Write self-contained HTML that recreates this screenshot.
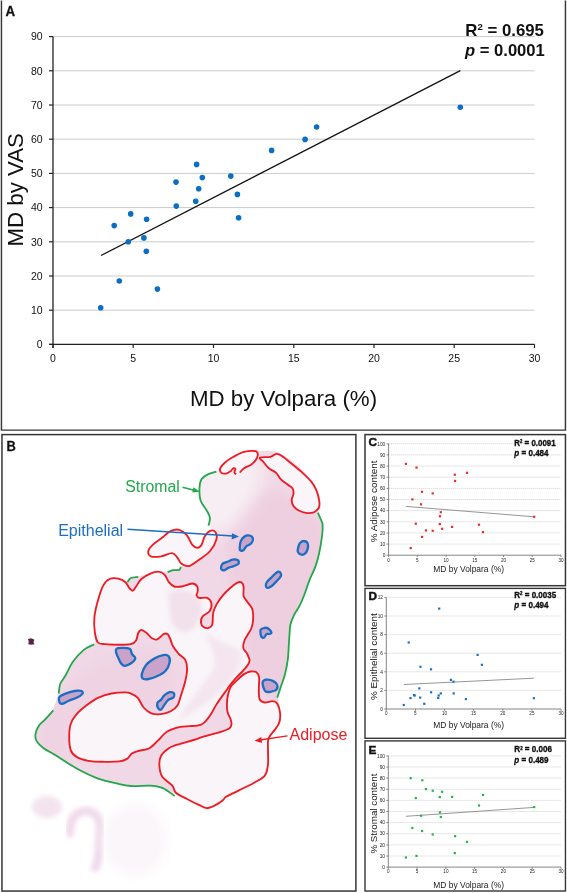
<!DOCTYPE html>
<html><head><meta charset="utf-8"><style>
html,body{margin:0;padding:0;background:#fff;width:567px;height:893px;overflow:hidden}
svg{display:block;will-change:transform}
text{font-family:'Liberation Sans',sans-serif}
</style></head><body>
<svg width="567" height="893" viewBox="0 0 567 893">
<rect width="567" height="893" fill="#fff"/>

<path d="M1.45,0.6 V430.1 H565.45 V0.6" fill="none" stroke="#363636" stroke-width="1.45"/>
<rect x="1.95" y="434.6" width="353.95" height="456.45" fill="none" stroke="#363636" stroke-width="1.5"/>
<rect x="365" y="434.6" width="200.45" height="151.1" fill="none" stroke="#363636" stroke-width="1.5"/>
<rect x="365" y="588.4" width="200.45" height="149.9" fill="none" stroke="#363636" stroke-width="1.4"/>
<rect x="365" y="740.9" width="200.45" height="150.1" fill="none" stroke="#363636" stroke-width="1.4"/>
<text x="5.5" y="15.9" font-size="14.6" font-weight="bold" fill="#111" stroke="#111" stroke-width="0.3" textLength="9.6" lengthAdjust="spacingAndGlyphs">A</text>
<line x1="53.0" y1="310.2" x2="534.5" y2="310.2" stroke="#cbcbcb" stroke-width="1"/>
<line x1="53.0" y1="276.0" x2="534.5" y2="276.0" stroke="#cbcbcb" stroke-width="1"/>
<line x1="53.0" y1="241.8" x2="534.5" y2="241.8" stroke="#cbcbcb" stroke-width="1"/>
<line x1="53.0" y1="207.6" x2="534.5" y2="207.6" stroke="#cbcbcb" stroke-width="1"/>
<line x1="53.0" y1="173.4" x2="534.5" y2="173.4" stroke="#cbcbcb" stroke-width="1"/>
<line x1="53.0" y1="139.2" x2="534.5" y2="139.2" stroke="#cbcbcb" stroke-width="1"/>
<line x1="53.0" y1="105.0" x2="534.5" y2="105.0" stroke="#cbcbcb" stroke-width="1"/>
<line x1="53.0" y1="70.8" x2="534.5" y2="70.8" stroke="#cbcbcb" stroke-width="1"/>
<line x1="53.0" y1="36.6" x2="534.5" y2="36.6" stroke="#cbcbcb" stroke-width="1"/>
<line x1="49" y1="344.4" x2="53.0" y2="344.4" stroke="#222" stroke-width="1.2"/>
<text x="42.6" y="348.2" font-size="10.5" text-anchor="end" fill="#111">0</text>
<line x1="49" y1="310.2" x2="53.0" y2="310.2" stroke="#222" stroke-width="1.2"/>
<text x="42.6" y="314.0" font-size="10.5" text-anchor="end" fill="#111">10</text>
<line x1="49" y1="276.0" x2="53.0" y2="276.0" stroke="#222" stroke-width="1.2"/>
<text x="42.6" y="279.8" font-size="10.5" text-anchor="end" fill="#111">20</text>
<line x1="49" y1="241.8" x2="53.0" y2="241.8" stroke="#222" stroke-width="1.2"/>
<text x="42.6" y="245.6" font-size="10.5" text-anchor="end" fill="#111">30</text>
<line x1="49" y1="207.6" x2="53.0" y2="207.6" stroke="#222" stroke-width="1.2"/>
<text x="42.6" y="211.4" font-size="10.5" text-anchor="end" fill="#111">40</text>
<line x1="49" y1="173.4" x2="53.0" y2="173.4" stroke="#222" stroke-width="1.2"/>
<text x="42.6" y="177.2" font-size="10.5" text-anchor="end" fill="#111">50</text>
<line x1="49" y1="139.2" x2="53.0" y2="139.2" stroke="#222" stroke-width="1.2"/>
<text x="42.6" y="143.0" font-size="10.5" text-anchor="end" fill="#111">60</text>
<line x1="49" y1="105.0" x2="53.0" y2="105.0" stroke="#222" stroke-width="1.2"/>
<text x="42.6" y="108.8" font-size="10.5" text-anchor="end" fill="#111">70</text>
<line x1="49" y1="70.8" x2="53.0" y2="70.8" stroke="#222" stroke-width="1.2"/>
<text x="42.6" y="74.6" font-size="10.5" text-anchor="end" fill="#111">80</text>
<line x1="49" y1="36.6" x2="53.0" y2="36.6" stroke="#222" stroke-width="1.2"/>
<text x="42.6" y="40.4" font-size="10.5" text-anchor="end" fill="#111">90</text>
<line x1="53.0" y1="344.4" x2="53.0" y2="348" stroke="#222" stroke-width="1.2"/>
<text x="53.0" y="361.6" font-size="10.5" text-anchor="middle" fill="#111">0</text>
<line x1="133.2" y1="344.4" x2="133.2" y2="348" stroke="#222" stroke-width="1.2"/>
<text x="133.2" y="361.6" font-size="10.5" text-anchor="middle" fill="#111">5</text>
<line x1="213.5" y1="344.4" x2="213.5" y2="348" stroke="#222" stroke-width="1.2"/>
<text x="213.5" y="361.6" font-size="10.5" text-anchor="middle" fill="#111">10</text>
<line x1="293.8" y1="344.4" x2="293.8" y2="348" stroke="#222" stroke-width="1.2"/>
<text x="293.8" y="361.6" font-size="10.5" text-anchor="middle" fill="#111">15</text>
<line x1="374.0" y1="344.4" x2="374.0" y2="348" stroke="#222" stroke-width="1.2"/>
<text x="374.0" y="361.6" font-size="10.5" text-anchor="middle" fill="#111">20</text>
<line x1="454.2" y1="344.4" x2="454.2" y2="348" stroke="#222" stroke-width="1.2"/>
<text x="454.2" y="361.6" font-size="10.5" text-anchor="middle" fill="#111">25</text>
<line x1="534.5" y1="344.4" x2="534.5" y2="348" stroke="#222" stroke-width="1.2"/>
<text x="534.5" y="361.6" font-size="10.5" text-anchor="middle" fill="#111">30</text>
<line x1="53.0" y1="36.6" x2="53.0" y2="348" stroke="#222" stroke-width="1.3"/>
<line x1="49" y1="344.4" x2="534.5" y2="344.4" stroke="#222" stroke-width="1.3"/>
<text x="190" y="405.7" font-size="22.3" fill="#111">MD by Volpara (%)</text>
<text transform="translate(23.2,246.6) rotate(-90)" font-size="22.3" fill="#111">MD by VAS</text>
<line x1="101" y1="255.5" x2="460.3" y2="70.6" stroke="#111" stroke-width="1.3"/>
<circle cx="100.7" cy="307.8" r="2.8" fill="#0a6fc4"/>
<circle cx="119.3" cy="281" r="2.8" fill="#0a6fc4"/>
<circle cx="157.4" cy="289.1" r="2.8" fill="#0a6fc4"/>
<circle cx="114.2" cy="225.6" r="2.8" fill="#0a6fc4"/>
<circle cx="130.7" cy="213.9" r="2.8" fill="#0a6fc4"/>
<circle cx="146.6" cy="219.3" r="2.8" fill="#0a6fc4"/>
<circle cx="128.3" cy="241.8" r="2.8" fill="#0a6fc4"/>
<circle cx="143.9" cy="237.9" r="2.8" fill="#0a6fc4"/>
<circle cx="146.3" cy="251.3" r="2.8" fill="#0a6fc4"/>
<circle cx="176" cy="182.1" r="2.8" fill="#0a6fc4"/>
<circle cx="176.3" cy="206.1" r="2.8" fill="#0a6fc4"/>
<circle cx="196.6" cy="164.4" r="2.8" fill="#0a6fc4"/>
<circle cx="202.3" cy="177.6" r="2.8" fill="#0a6fc4"/>
<circle cx="198.7" cy="188.7" r="2.8" fill="#0a6fc4"/>
<circle cx="195.7" cy="201.3" r="2.8" fill="#0a6fc4"/>
<circle cx="230.8" cy="176.1" r="2.8" fill="#0a6fc4"/>
<circle cx="237.4" cy="194.4" r="2.8" fill="#0a6fc4"/>
<circle cx="238.6" cy="217.8" r="2.8" fill="#0a6fc4"/>
<circle cx="271.6" cy="150.4" r="2.8" fill="#0a6fc4"/>
<circle cx="305.1" cy="139.4" r="2.8" fill="#0a6fc4"/>
<circle cx="316.6" cy="127" r="2.8" fill="#0a6fc4"/>
<circle cx="460.3" cy="107.2" r="2.8" fill="#0a6fc4"/>
<text x="465.3" y="35.9" font-size="16.6" font-weight="bold" fill="#111" textLength="78.6" lengthAdjust="spacingAndGlyphs">R<tspan font-size="9.5" dy="-6.3">2</tspan><tspan dy="6.3"> = 0.695</tspan></text>
<text x="465" y="56.2" font-size="16.6" font-weight="bold" fill="#111"><tspan font-style="italic">p</tspan> = 0.0001</text>
<text x="368.6" y="446.1" font-size="11.8" font-weight="bold" fill="#111" stroke="#111" stroke-width="0.45">C</text>
<line x1="388.6" y1="544.1" x2="561.0" y2="544.1" stroke="#d0d0d0" stroke-width="0.8" stroke-dasharray="1.3 0.7"/>
<line x1="388.6" y1="532.9" x2="561.0" y2="532.9" stroke="#d0d0d0" stroke-width="0.8" stroke-dasharray="1.3 0.7"/>
<line x1="388.6" y1="521.8" x2="561.0" y2="521.8" stroke="#d0d0d0" stroke-width="0.8" stroke-dasharray="1.3 0.7"/>
<line x1="388.6" y1="510.6" x2="561.0" y2="510.6" stroke="#d0d0d0" stroke-width="0.8" stroke-dasharray="1.3 0.7"/>
<line x1="388.6" y1="499.5" x2="561.0" y2="499.5" stroke="#d0d0d0" stroke-width="0.8" stroke-dasharray="1.3 0.7"/>
<line x1="388.6" y1="488.4" x2="561.0" y2="488.4" stroke="#d0d0d0" stroke-width="0.8" stroke-dasharray="1.3 0.7"/>
<line x1="388.6" y1="477.2" x2="561.0" y2="477.2" stroke="#d0d0d0" stroke-width="0.8" stroke-dasharray="1.3 0.7"/>
<line x1="388.6" y1="466.1" x2="561.0" y2="466.1" stroke="#d0d0d0" stroke-width="0.8" stroke-dasharray="1.3 0.7"/>
<line x1="388.6" y1="454.9" x2="561.0" y2="454.9" stroke="#d0d0d0" stroke-width="0.8" stroke-dasharray="1.3 0.7"/>
<line x1="388.6" y1="443.8" x2="561.0" y2="443.8" stroke="#d0d0d0" stroke-width="0.8" stroke-dasharray="1.3 0.7"/>
<line x1="386.6" y1="555.2" x2="388.6" y2="555.2" stroke="#555" stroke-width="0.7"/>
<text x="385.3" y="556.9" font-size="4.8" text-anchor="end" fill="#222">0</text>
<line x1="386.6" y1="544.1" x2="388.6" y2="544.1" stroke="#555" stroke-width="0.7"/>
<text x="385.3" y="545.8" font-size="4.8" text-anchor="end" fill="#222">10</text>
<line x1="386.6" y1="532.9" x2="388.6" y2="532.9" stroke="#555" stroke-width="0.7"/>
<text x="385.3" y="534.6" font-size="4.8" text-anchor="end" fill="#222">20</text>
<line x1="386.6" y1="521.8" x2="388.6" y2="521.8" stroke="#555" stroke-width="0.7"/>
<text x="385.3" y="523.5" font-size="4.8" text-anchor="end" fill="#222">30</text>
<line x1="386.6" y1="510.6" x2="388.6" y2="510.6" stroke="#555" stroke-width="0.7"/>
<text x="385.3" y="512.3" font-size="4.8" text-anchor="end" fill="#222">40</text>
<line x1="386.6" y1="499.5" x2="388.6" y2="499.5" stroke="#555" stroke-width="0.7"/>
<text x="385.3" y="501.2" font-size="4.8" text-anchor="end" fill="#222">50</text>
<line x1="386.6" y1="488.4" x2="388.6" y2="488.4" stroke="#555" stroke-width="0.7"/>
<text x="385.3" y="490.1" font-size="4.8" text-anchor="end" fill="#222">60</text>
<line x1="386.6" y1="477.2" x2="388.6" y2="477.2" stroke="#555" stroke-width="0.7"/>
<text x="385.3" y="478.9" font-size="4.8" text-anchor="end" fill="#222">70</text>
<line x1="386.6" y1="466.1" x2="388.6" y2="466.1" stroke="#555" stroke-width="0.7"/>
<text x="385.3" y="467.8" font-size="4.8" text-anchor="end" fill="#222">80</text>
<line x1="386.6" y1="454.9" x2="388.6" y2="454.9" stroke="#555" stroke-width="0.7"/>
<text x="385.3" y="456.6" font-size="4.8" text-anchor="end" fill="#222">90</text>
<line x1="386.6" y1="443.8" x2="388.6" y2="443.8" stroke="#555" stroke-width="0.7"/>
<text x="385.3" y="445.5" font-size="4.8" text-anchor="end" fill="#222">100</text>
<line x1="388.6" y1="555.2" x2="388.6" y2="557.0" stroke="#555" stroke-width="0.7"/>
<text x="388.6" y="561.5" font-size="4.6" text-anchor="middle" fill="#222">0</text>
<line x1="417.3" y1="555.2" x2="417.3" y2="557.0" stroke="#555" stroke-width="0.7"/>
<text x="417.3" y="561.5" font-size="4.6" text-anchor="middle" fill="#222">5</text>
<line x1="446.1" y1="555.2" x2="446.1" y2="557.0" stroke="#555" stroke-width="0.7"/>
<text x="446.1" y="561.5" font-size="4.6" text-anchor="middle" fill="#222">10</text>
<line x1="474.8" y1="555.2" x2="474.8" y2="557.0" stroke="#555" stroke-width="0.7"/>
<text x="474.8" y="561.5" font-size="4.6" text-anchor="middle" fill="#222">15</text>
<line x1="503.5" y1="555.2" x2="503.5" y2="557.0" stroke="#555" stroke-width="0.7"/>
<text x="503.5" y="561.5" font-size="4.6" text-anchor="middle" fill="#222">20</text>
<line x1="532.3" y1="555.2" x2="532.3" y2="557.0" stroke="#555" stroke-width="0.7"/>
<text x="532.3" y="561.5" font-size="4.6" text-anchor="middle" fill="#222">25</text>
<line x1="561.0" y1="555.2" x2="561.0" y2="557.0" stroke="#555" stroke-width="0.7"/>
<text x="561.0" y="561.5" font-size="4.6" text-anchor="middle" fill="#222">30</text>
<line x1="388.6" y1="443.8" x2="388.6" y2="555.2" stroke="#777" stroke-width="0.9"/>
<line x1="388.6" y1="555.2" x2="561.0" y2="555.2" stroke="#777" stroke-width="0.9"/>
<line x1="405.9" y1="506.4" x2="534.2" y2="516.8" stroke="#8a8a8a" stroke-width="0.9"/>
<rect x="404.8" y="462.8" width="2.2" height="2.2" fill="#ee2a2a"/>
<rect x="415.4" y="466.5" width="2.2" height="2.2" fill="#ee2a2a"/>
<rect x="453.7" y="473.6" width="2.2" height="2.2" fill="#ee2a2a"/>
<rect x="454.0" y="479.8" width="2.2" height="2.2" fill="#ee2a2a"/>
<rect x="420.9" y="490.7" width="2.2" height="2.2" fill="#ee2a2a"/>
<rect x="431.6" y="492.3" width="2.2" height="2.2" fill="#ee2a2a"/>
<rect x="411.3" y="498.3" width="2.2" height="2.2" fill="#ee2a2a"/>
<rect x="420.0" y="503.2" width="2.2" height="2.2" fill="#ee2a2a"/>
<rect x="439.7" y="511.1" width="2.2" height="2.2" fill="#ee2a2a"/>
<rect x="438.9" y="515.2" width="2.2" height="2.2" fill="#ee2a2a"/>
<rect x="414.7" y="522.6" width="2.2" height="2.2" fill="#ee2a2a"/>
<rect x="438.7" y="523.0" width="2.2" height="2.2" fill="#ee2a2a"/>
<rect x="451.0" y="525.8" width="2.2" height="2.2" fill="#ee2a2a"/>
<rect x="441.0" y="527.7" width="2.2" height="2.2" fill="#ee2a2a"/>
<rect x="424.9" y="529.3" width="2.2" height="2.2" fill="#ee2a2a"/>
<rect x="431.6" y="529.7" width="2.2" height="2.2" fill="#ee2a2a"/>
<rect x="465.9" y="471.7" width="2.2" height="2.2" fill="#ee2a2a"/>
<rect x="533.1" y="515.7" width="2.2" height="2.2" fill="#ee2a2a"/>
<rect x="477.9" y="523.6" width="2.2" height="2.2" fill="#ee2a2a"/>
<rect x="481.9" y="531.0" width="2.2" height="2.2" fill="#ee2a2a"/>
<rect x="409.6" y="547.0" width="2.2" height="2.2" fill="#ee2a2a"/>
<rect x="421.0" y="535.8" width="2.2" height="2.2" fill="#ee2a2a"/>
<text x="433.3" y="572.2" font-size="8.9" fill="#1a1a1a" textLength="70.7" lengthAdjust="spacingAndGlyphs">MD by Volpara (%)</text>
<text transform="translate(376.9,542.3) rotate(-90)" font-size="9.7" fill="#151515" textLength="81.7" lengthAdjust="spacingAndGlyphs">% Adipose content</text>
<text x="514.3" y="445.8" font-size="9.3" font-weight="bold" fill="#111" stroke="#111" stroke-width="0.35" textLength="41.3" lengthAdjust="spacingAndGlyphs">R<tspan font-size="5" dy="-2.9">2</tspan><tspan dy="2.9"> = 0.0091</tspan></text>
<text x="514.3" y="456.2" font-size="9.3" font-weight="bold" fill="#111" stroke="#111" stroke-width="0.35" textLength="34.3" lengthAdjust="spacingAndGlyphs"><tspan font-style="italic">p</tspan> = 0.484</text>
<text x="368.6" y="600.3" font-size="11.8" font-weight="bold" fill="#111" stroke="#111" stroke-width="0.45">D</text>
<line x1="386.3" y1="690.4" x2="561.0" y2="690.4" stroke="#d0d0d0" stroke-width="0.8" stroke-dasharray="1.3 0.7"/>
<line x1="386.3" y1="671.8" x2="561.0" y2="671.8" stroke="#d0d0d0" stroke-width="0.8" stroke-dasharray="1.3 0.7"/>
<line x1="386.3" y1="653.2" x2="561.0" y2="653.2" stroke="#d0d0d0" stroke-width="0.8" stroke-dasharray="1.3 0.7"/>
<line x1="386.3" y1="634.6" x2="561.0" y2="634.6" stroke="#d0d0d0" stroke-width="0.8" stroke-dasharray="1.3 0.7"/>
<line x1="386.3" y1="616.0" x2="561.0" y2="616.0" stroke="#d0d0d0" stroke-width="0.8" stroke-dasharray="1.3 0.7"/>
<line x1="386.3" y1="597.4" x2="561.0" y2="597.4" stroke="#d0d0d0" stroke-width="0.8" stroke-dasharray="1.3 0.7"/>
<line x1="384.3" y1="709.0" x2="386.3" y2="709.0" stroke="#555" stroke-width="0.7"/>
<text x="383.0" y="710.7" font-size="4.8" text-anchor="end" fill="#222">0</text>
<line x1="384.3" y1="690.4" x2="386.3" y2="690.4" stroke="#555" stroke-width="0.7"/>
<text x="383.0" y="692.1" font-size="4.8" text-anchor="end" fill="#222">2</text>
<line x1="384.3" y1="671.8" x2="386.3" y2="671.8" stroke="#555" stroke-width="0.7"/>
<text x="383.0" y="673.5" font-size="4.8" text-anchor="end" fill="#222">4</text>
<line x1="384.3" y1="653.2" x2="386.3" y2="653.2" stroke="#555" stroke-width="0.7"/>
<text x="383.0" y="654.9" font-size="4.8" text-anchor="end" fill="#222">6</text>
<line x1="384.3" y1="634.6" x2="386.3" y2="634.6" stroke="#555" stroke-width="0.7"/>
<text x="383.0" y="636.3" font-size="4.8" text-anchor="end" fill="#222">8</text>
<line x1="384.3" y1="616.0" x2="386.3" y2="616.0" stroke="#555" stroke-width="0.7"/>
<text x="383.0" y="617.7" font-size="4.8" text-anchor="end" fill="#222">10</text>
<line x1="384.3" y1="597.4" x2="386.3" y2="597.4" stroke="#555" stroke-width="0.7"/>
<text x="383.0" y="599.1" font-size="4.8" text-anchor="end" fill="#222">12</text>
<line x1="386.3" y1="709.0" x2="386.3" y2="710.8" stroke="#555" stroke-width="0.7"/>
<text x="386.3" y="715.3" font-size="4.6" text-anchor="middle" fill="#222">0</text>
<line x1="415.4" y1="709.0" x2="415.4" y2="710.8" stroke="#555" stroke-width="0.7"/>
<text x="415.4" y="715.3" font-size="4.6" text-anchor="middle" fill="#222">5</text>
<line x1="444.5" y1="709.0" x2="444.5" y2="710.8" stroke="#555" stroke-width="0.7"/>
<text x="444.5" y="715.3" font-size="4.6" text-anchor="middle" fill="#222">10</text>
<line x1="473.6" y1="709.0" x2="473.6" y2="710.8" stroke="#555" stroke-width="0.7"/>
<text x="473.6" y="715.3" font-size="4.6" text-anchor="middle" fill="#222">15</text>
<line x1="502.8" y1="709.0" x2="502.8" y2="710.8" stroke="#555" stroke-width="0.7"/>
<text x="502.8" y="715.3" font-size="4.6" text-anchor="middle" fill="#222">20</text>
<line x1="531.9" y1="709.0" x2="531.9" y2="710.8" stroke="#555" stroke-width="0.7"/>
<text x="531.9" y="715.3" font-size="4.6" text-anchor="middle" fill="#222">25</text>
<line x1="561.0" y1="709.0" x2="561.0" y2="710.8" stroke="#555" stroke-width="0.7"/>
<text x="561.0" y="715.3" font-size="4.6" text-anchor="middle" fill="#222">30</text>
<line x1="386.3" y1="597.4" x2="386.3" y2="709.0" stroke="#777" stroke-width="0.9"/>
<line x1="386.3" y1="709.0" x2="561.0" y2="709.0" stroke="#777" stroke-width="0.9"/>
<line x1="403.8" y1="684.5" x2="533.9" y2="678.2" stroke="#8a8a8a" stroke-width="0.9"/>
<rect x="438.1" y="607.5" width="2.2" height="2.2" fill="#1a72c4"/>
<rect x="407.6" y="641.4" width="2.2" height="2.2" fill="#1a72c4"/>
<rect x="419.3" y="665.7" width="2.2" height="2.2" fill="#1a72c4"/>
<rect x="429.9" y="668.2" width="2.2" height="2.2" fill="#1a72c4"/>
<rect x="449.8" y="678.8" width="2.2" height="2.2" fill="#1a72c4"/>
<rect x="452.3" y="680.6" width="2.2" height="2.2" fill="#1a72c4"/>
<rect x="476.5" y="653.8" width="2.2" height="2.2" fill="#1a72c4"/>
<rect x="480.8" y="663.7" width="2.2" height="2.2" fill="#1a72c4"/>
<rect x="418.2" y="687.3" width="2.2" height="2.2" fill="#1a72c4"/>
<rect x="430.0" y="691.2" width="2.2" height="2.2" fill="#1a72c4"/>
<rect x="439.7" y="692.3" width="2.2" height="2.2" fill="#1a72c4"/>
<rect x="452.6" y="692.3" width="2.2" height="2.2" fill="#1a72c4"/>
<rect x="412.9" y="694.0" width="2.2" height="2.2" fill="#1a72c4"/>
<rect x="413.6" y="694.4" width="2.2" height="2.2" fill="#1a72c4"/>
<rect x="437.6" y="694.4" width="2.2" height="2.2" fill="#1a72c4"/>
<rect x="409.4" y="697.0" width="2.2" height="2.2" fill="#1a72c4"/>
<rect x="419.1" y="696.5" width="2.2" height="2.2" fill="#1a72c4"/>
<rect x="437.1" y="696.9" width="2.2" height="2.2" fill="#1a72c4"/>
<rect x="423.2" y="702.7" width="2.2" height="2.2" fill="#1a72c4"/>
<rect x="402.7" y="703.9" width="2.2" height="2.2" fill="#1a72c4"/>
<rect x="464.8" y="698.0" width="2.2" height="2.2" fill="#1a72c4"/>
<rect x="532.8" y="697.1" width="2.2" height="2.2" fill="#1a72c4"/>
<text x="433.3" y="728.1" font-size="9.6" fill="#1a1a1a" textLength="70.7" lengthAdjust="spacingAndGlyphs">MD by Volpara (%)</text>
<text transform="translate(376.9,700.1) rotate(-90)" font-size="9.7" fill="#151515" textLength="86.8" lengthAdjust="spacingAndGlyphs">% Epithelial content</text>
<text x="514.3" y="597.9" font-size="9.3" font-weight="bold" fill="#111" stroke="#111" stroke-width="0.35" textLength="41.9" lengthAdjust="spacingAndGlyphs">R<tspan font-size="5" dy="-2.9">2</tspan><tspan dy="2.9"> = 0.0035</tspan></text>
<text x="514.3" y="607.8" font-size="9.3" font-weight="bold" fill="#111" stroke="#111" stroke-width="0.35" textLength="34.3" lengthAdjust="spacingAndGlyphs"><tspan font-style="italic">p</tspan> = 0.494</text>
<text x="368.6" y="754.4" font-size="11.8" font-weight="bold" fill="#111" stroke="#111" stroke-width="0.45">E</text>
<line x1="388.3" y1="856.0" x2="561.0" y2="856.0" stroke="#d0d0d0" stroke-width="0.8" stroke-dasharray="1.3 0.7"/>
<line x1="388.3" y1="844.9" x2="561.0" y2="844.9" stroke="#d0d0d0" stroke-width="0.8" stroke-dasharray="1.3 0.7"/>
<line x1="388.3" y1="833.7" x2="561.0" y2="833.7" stroke="#d0d0d0" stroke-width="0.8" stroke-dasharray="1.3 0.7"/>
<line x1="388.3" y1="822.6" x2="561.0" y2="822.6" stroke="#d0d0d0" stroke-width="0.8" stroke-dasharray="1.3 0.7"/>
<line x1="388.3" y1="811.5" x2="561.0" y2="811.5" stroke="#d0d0d0" stroke-width="0.8" stroke-dasharray="1.3 0.7"/>
<line x1="388.3" y1="800.4" x2="561.0" y2="800.4" stroke="#d0d0d0" stroke-width="0.8" stroke-dasharray="1.3 0.7"/>
<line x1="388.3" y1="789.3" x2="561.0" y2="789.3" stroke="#d0d0d0" stroke-width="0.8" stroke-dasharray="1.3 0.7"/>
<line x1="388.3" y1="778.1" x2="561.0" y2="778.1" stroke="#d0d0d0" stroke-width="0.8" stroke-dasharray="1.3 0.7"/>
<line x1="388.3" y1="767.0" x2="561.0" y2="767.0" stroke="#d0d0d0" stroke-width="0.8" stroke-dasharray="1.3 0.7"/>
<line x1="388.3" y1="755.9" x2="561.0" y2="755.9" stroke="#d0d0d0" stroke-width="0.8" stroke-dasharray="1.3 0.7"/>
<line x1="386.3" y1="867.1" x2="388.3" y2="867.1" stroke="#555" stroke-width="0.7"/>
<text x="385.0" y="868.8" font-size="4.8" text-anchor="end" fill="#222">0</text>
<line x1="386.3" y1="856.0" x2="388.3" y2="856.0" stroke="#555" stroke-width="0.7"/>
<text x="385.0" y="857.7" font-size="4.8" text-anchor="end" fill="#222">10</text>
<line x1="386.3" y1="844.9" x2="388.3" y2="844.9" stroke="#555" stroke-width="0.7"/>
<text x="385.0" y="846.6" font-size="4.8" text-anchor="end" fill="#222">20</text>
<line x1="386.3" y1="833.7" x2="388.3" y2="833.7" stroke="#555" stroke-width="0.7"/>
<text x="385.0" y="835.4" font-size="4.8" text-anchor="end" fill="#222">30</text>
<line x1="386.3" y1="822.6" x2="388.3" y2="822.6" stroke="#555" stroke-width="0.7"/>
<text x="385.0" y="824.3" font-size="4.8" text-anchor="end" fill="#222">40</text>
<line x1="386.3" y1="811.5" x2="388.3" y2="811.5" stroke="#555" stroke-width="0.7"/>
<text x="385.0" y="813.2" font-size="4.8" text-anchor="end" fill="#222">50</text>
<line x1="386.3" y1="800.4" x2="388.3" y2="800.4" stroke="#555" stroke-width="0.7"/>
<text x="385.0" y="802.1" font-size="4.8" text-anchor="end" fill="#222">60</text>
<line x1="386.3" y1="789.3" x2="388.3" y2="789.3" stroke="#555" stroke-width="0.7"/>
<text x="385.0" y="791.0" font-size="4.8" text-anchor="end" fill="#222">70</text>
<line x1="386.3" y1="778.1" x2="388.3" y2="778.1" stroke="#555" stroke-width="0.7"/>
<text x="385.0" y="779.8" font-size="4.8" text-anchor="end" fill="#222">80</text>
<line x1="386.3" y1="767.0" x2="388.3" y2="767.0" stroke="#555" stroke-width="0.7"/>
<text x="385.0" y="768.7" font-size="4.8" text-anchor="end" fill="#222">90</text>
<line x1="386.3" y1="755.9" x2="388.3" y2="755.9" stroke="#555" stroke-width="0.7"/>
<text x="385.0" y="757.6" font-size="4.8" text-anchor="end" fill="#222">100</text>
<line x1="388.3" y1="867.1" x2="388.3" y2="868.9" stroke="#555" stroke-width="0.7"/>
<text x="388.3" y="873.4" font-size="4.6" text-anchor="middle" fill="#222">0</text>
<line x1="417.1" y1="867.1" x2="417.1" y2="868.9" stroke="#555" stroke-width="0.7"/>
<text x="417.1" y="873.4" font-size="4.6" text-anchor="middle" fill="#222">5</text>
<line x1="445.9" y1="867.1" x2="445.9" y2="868.9" stroke="#555" stroke-width="0.7"/>
<text x="445.9" y="873.4" font-size="4.6" text-anchor="middle" fill="#222">10</text>
<line x1="474.6" y1="867.1" x2="474.6" y2="868.9" stroke="#555" stroke-width="0.7"/>
<text x="474.6" y="873.4" font-size="4.6" text-anchor="middle" fill="#222">15</text>
<line x1="503.4" y1="867.1" x2="503.4" y2="868.9" stroke="#555" stroke-width="0.7"/>
<text x="503.4" y="873.4" font-size="4.6" text-anchor="middle" fill="#222">20</text>
<line x1="532.2" y1="867.1" x2="532.2" y2="868.9" stroke="#555" stroke-width="0.7"/>
<text x="532.2" y="873.4" font-size="4.6" text-anchor="middle" fill="#222">25</text>
<line x1="561.0" y1="867.1" x2="561.0" y2="868.9" stroke="#555" stroke-width="0.7"/>
<text x="561.0" y="873.4" font-size="4.6" text-anchor="middle" fill="#222">30</text>
<line x1="388.3" y1="755.9" x2="388.3" y2="867.1" stroke="#777" stroke-width="0.9"/>
<line x1="388.3" y1="867.1" x2="561.0" y2="867.1" stroke="#777" stroke-width="0.9"/>
<line x1="405.9" y1="816.3" x2="534.2" y2="807.4" stroke="#8a8a8a" stroke-width="0.9"/>
<rect x="409.6" y="777.1" width="2.2" height="2.2" fill="#22b34c"/>
<rect x="421.2" y="779.2" width="2.2" height="2.2" fill="#22b34c"/>
<rect x="424.9" y="788.0" width="2.2" height="2.2" fill="#22b34c"/>
<rect x="431.6" y="789.6" width="2.2" height="2.2" fill="#22b34c"/>
<rect x="441.0" y="790.7" width="2.2" height="2.2" fill="#22b34c"/>
<rect x="414.7" y="797.0" width="2.2" height="2.2" fill="#22b34c"/>
<rect x="438.7" y="796.0" width="2.2" height="2.2" fill="#22b34c"/>
<rect x="451.0" y="795.8" width="2.2" height="2.2" fill="#22b34c"/>
<rect x="438.9" y="811.3" width="2.2" height="2.2" fill="#22b34c"/>
<rect x="420.0" y="814.7" width="2.2" height="2.2" fill="#22b34c"/>
<rect x="439.7" y="815.9" width="2.2" height="2.2" fill="#22b34c"/>
<rect x="411.3" y="826.9" width="2.2" height="2.2" fill="#22b34c"/>
<rect x="421.0" y="829.9" width="2.2" height="2.2" fill="#22b34c"/>
<rect x="431.6" y="833.4" width="2.2" height="2.2" fill="#22b34c"/>
<rect x="454.0" y="835.1" width="2.2" height="2.2" fill="#22b34c"/>
<rect x="404.8" y="856.4" width="2.2" height="2.2" fill="#22b34c"/>
<rect x="415.4" y="854.8" width="2.2" height="2.2" fill="#22b34c"/>
<rect x="453.7" y="852.0" width="2.2" height="2.2" fill="#22b34c"/>
<rect x="481.9" y="793.8" width="2.2" height="2.2" fill="#22b34c"/>
<rect x="477.9" y="804.4" width="2.2" height="2.2" fill="#22b34c"/>
<rect x="533.1" y="806.0" width="2.2" height="2.2" fill="#22b34c"/>
<rect x="465.9" y="840.8" width="2.2" height="2.2" fill="#22b34c"/>
<text x="433.3" y="888.3" font-size="9.3" fill="#1a1a1a" textLength="70.7" lengthAdjust="spacingAndGlyphs">MD by Volpara (%)</text>
<text transform="translate(376.9,853.6) rotate(-90)" font-size="9.7" fill="#151515" textLength="80" lengthAdjust="spacingAndGlyphs">% Stromal content</text>
<text x="514.3" y="752.4" font-size="9.3" font-weight="bold" fill="#111" stroke="#111" stroke-width="0.35" textLength="37.7" lengthAdjust="spacingAndGlyphs">R<tspan font-size="5" dy="-2.9">2</tspan><tspan dy="2.9"> = 0.006</tspan></text>
<text x="514.3" y="762.9" font-size="9.3" font-weight="bold" fill="#111" stroke="#111" stroke-width="0.35" textLength="34.3" lengthAdjust="spacingAndGlyphs"><tspan font-style="italic">p</tspan> = 0.489</text>
<text x="6.6" y="450.8" font-size="15.3" font-weight="bold" fill="#111" stroke="#111" stroke-width="0.3" textLength="9.3" lengthAdjust="spacingAndGlyphs">B</text>
<defs><filter id="blur1" x="-10%" y="-10%" width="120%" height="120%"><feGaussianBlur stdDeviation="2.5"/></filter><filter id="blur2" x="-20%" y="-20%" width="140%" height="140%"><feGaussianBlur stdDeviation="5"/></filter><filter id="blur3" x="-50%" y="-50%" width="200%" height="200%"><feGaussianBlur stdDeviation="8"/></filter></defs>
<ellipse cx="47" cy="807" rx="15" ry="11" fill="#f3e3ee" filter="url(#blur1)"/>
<path d="M70,833 C69,820 76,811 86,811 C95,811 101,818 100,830 C99,845 100,860 95,868" fill="none" stroke="#efd9e9" stroke-width="8.5" stroke-linecap="round" filter="url(#blur1)"/>
<ellipse cx="135" cy="840" rx="32" ry="36" fill="#fbf6fa" filter="url(#blur2)"/>
<path d="M216.0,471.6 C218.3,470.2 219.0,468.6 222.0,466.0 C225.0,463.4 229.2,458.7 234.0,456.0 C238.8,453.3 246.3,450.8 251.0,450.0 C255.7,449.2 257.7,450.7 262.0,451.0 C266.3,451.3 272.0,450.3 277.0,452.0 C282.0,453.7 287.2,457.3 292.0,461.0 C296.8,464.7 302.3,469.8 306.0,474.0 C309.7,478.2 311.8,481.7 314.0,486.0 C316.2,490.3 318.1,496.3 319.0,500.0 C319.9,503.7 319.7,505.9 319.5,508.0 C319.3,510.1 317.6,510.8 317.8,512.7 C318.0,514.6 320.0,517.4 320.8,519.4 C321.6,521.4 322.4,522.0 322.6,524.7 C322.8,527.4 322.7,530.8 322.1,535.5 C321.5,540.2 320.3,547.8 319.2,553.0 C318.1,558.2 317.0,562.1 315.4,566.6 C313.8,571.1 311.3,575.6 309.5,580.1 C307.7,584.6 306.3,589.5 304.7,593.7 C303.1,597.9 301.6,601.8 299.8,605.4 C298.0,609.0 295.6,611.9 294.0,615.1 C292.4,618.3 290.8,622.4 290.1,624.8 C289.4,627.2 290.0,626.6 289.8,629.7 C289.6,632.8 289.2,638.4 288.9,643.3 C288.6,648.1 288.5,653.6 287.9,658.8 C287.2,664.0 286.1,669.8 285.0,674.3 C283.9,678.8 282.3,682.1 281.1,686.0 C279.9,689.9 278.1,693.6 278.0,697.6 C277.9,701.6 280.2,705.8 280.5,710.0 C280.8,714.2 281.0,719.7 280.0,723.0 C279.0,726.3 276.6,727.4 274.7,730.0 C272.8,732.6 269.6,732.8 268.5,738.5 C267.4,744.2 268.6,757.8 268.0,764.0 C267.4,770.2 269.6,771.3 264.8,775.6 C260.0,779.9 247.2,785.1 239.0,790.0 C230.8,794.9 220.8,801.9 215.4,805.0 C210.0,808.1 211.5,809.5 206.8,808.5 C202.1,807.5 192.1,801.4 187.0,799.0 C181.9,796.6 178.8,795.2 176.0,794.0 C173.2,792.8 172.3,792.9 170.0,792.0 C167.7,791.1 165.6,789.4 162.3,788.5 C159.0,787.6 155.2,786.8 150.0,786.5 C144.8,786.2 136.7,787.4 130.9,787.0 C125.1,786.6 120.6,785.2 115.4,784.0 C110.2,782.8 105.3,781.9 99.8,780.0 C94.3,778.1 87.6,775.1 82.4,772.5 C77.2,769.9 73.3,767.2 68.8,764.5 C64.3,761.8 59.4,758.6 55.2,756.0 C51.0,753.4 46.7,751.3 43.6,749.0 C40.5,746.7 38.0,744.4 36.5,742.0 C35.0,739.6 34.5,737.3 34.8,734.6 C35.1,731.9 36.5,728.6 38.2,725.9 C39.9,723.2 42.6,721.1 45.0,718.5 C47.4,715.9 50.6,714.6 52.8,710.4 C55.0,706.2 57.0,697.9 58.2,693.5 C59.4,689.1 58.9,687.0 60.0,684.0 C61.1,681.0 62.9,679.2 65.0,675.5 C67.1,671.8 69.5,666.0 72.5,661.7 C75.5,657.5 79.4,653.0 83.0,650.0 C86.6,647.0 92.1,647.0 94.0,644.0 C95.9,641.0 94.3,636.5 94.3,632.0 C94.3,627.5 93.5,622.3 94.0,617.0 C94.5,611.7 96.0,605.3 97.5,600.0 C99.0,594.7 101.0,589.0 103.0,585.4 C105.0,581.8 107.1,579.7 109.6,578.5 C112.1,577.3 115.4,577.5 118.1,578.0 C120.8,578.5 123.4,581.6 125.5,581.5 C127.6,581.4 128.7,578.4 130.8,577.5 C132.9,576.6 135.0,577.1 138.2,576.4 C141.4,575.7 146.5,574.2 149.8,573.3 C153.2,572.4 155.3,571.2 158.3,571.0 C161.3,570.8 165.3,572.0 167.8,571.8 C170.3,571.6 171.2,570.3 173.1,569.8 C175.0,569.3 178.2,569.6 179.5,569.0 C180.8,568.4 179.3,566.8 181.0,566.3 C182.7,565.8 186.8,566.9 189.9,565.8 C193.0,564.7 196.1,562.0 199.5,559.5 C202.9,557.0 207.3,554.4 210.1,551.0 C212.9,547.6 215.5,542.6 216.4,539.4 C217.3,536.2 216.6,534.3 215.3,532.0 C214.0,529.7 209.3,527.9 208.4,525.6 C207.5,523.3 210.2,520.7 210.0,518.2 C209.8,515.7 208.5,513.8 206.9,510.8 C205.3,507.8 201.7,504.1 200.5,500.2 C199.3,496.3 199.3,491.0 199.5,487.5 C199.7,484.0 200.2,481.2 201.6,479.0 C203.0,476.8 205.5,475.6 207.9,474.4 C210.3,473.2 213.7,473.0 216.0,471.6Z" fill="#f1d8e6"/>
<clipPath id="tclip"><path d="M216.0,471.6 C218.3,470.2 219.0,468.6 222.0,466.0 C225.0,463.4 229.2,458.7 234.0,456.0 C238.8,453.3 246.3,450.8 251.0,450.0 C255.7,449.2 257.7,450.7 262.0,451.0 C266.3,451.3 272.0,450.3 277.0,452.0 C282.0,453.7 287.2,457.3 292.0,461.0 C296.8,464.7 302.3,469.8 306.0,474.0 C309.7,478.2 311.8,481.7 314.0,486.0 C316.2,490.3 318.1,496.3 319.0,500.0 C319.9,503.7 319.7,505.9 319.5,508.0 C319.3,510.1 317.6,510.8 317.8,512.7 C318.0,514.6 320.0,517.4 320.8,519.4 C321.6,521.4 322.4,522.0 322.6,524.7 C322.8,527.4 322.7,530.8 322.1,535.5 C321.5,540.2 320.3,547.8 319.2,553.0 C318.1,558.2 317.0,562.1 315.4,566.6 C313.8,571.1 311.3,575.6 309.5,580.1 C307.7,584.6 306.3,589.5 304.7,593.7 C303.1,597.9 301.6,601.8 299.8,605.4 C298.0,609.0 295.6,611.9 294.0,615.1 C292.4,618.3 290.8,622.4 290.1,624.8 C289.4,627.2 290.0,626.6 289.8,629.7 C289.6,632.8 289.2,638.4 288.9,643.3 C288.6,648.1 288.5,653.6 287.9,658.8 C287.2,664.0 286.1,669.8 285.0,674.3 C283.9,678.8 282.3,682.1 281.1,686.0 C279.9,689.9 278.1,693.6 278.0,697.6 C277.9,701.6 280.2,705.8 280.5,710.0 C280.8,714.2 281.0,719.7 280.0,723.0 C279.0,726.3 276.6,727.4 274.7,730.0 C272.8,732.6 269.6,732.8 268.5,738.5 C267.4,744.2 268.6,757.8 268.0,764.0 C267.4,770.2 269.6,771.3 264.8,775.6 C260.0,779.9 247.2,785.1 239.0,790.0 C230.8,794.9 220.8,801.9 215.4,805.0 C210.0,808.1 211.5,809.5 206.8,808.5 C202.1,807.5 192.1,801.4 187.0,799.0 C181.9,796.6 178.8,795.2 176.0,794.0 C173.2,792.8 172.3,792.9 170.0,792.0 C167.7,791.1 165.6,789.4 162.3,788.5 C159.0,787.6 155.2,786.8 150.0,786.5 C144.8,786.2 136.7,787.4 130.9,787.0 C125.1,786.6 120.6,785.2 115.4,784.0 C110.2,782.8 105.3,781.9 99.8,780.0 C94.3,778.1 87.6,775.1 82.4,772.5 C77.2,769.9 73.3,767.2 68.8,764.5 C64.3,761.8 59.4,758.6 55.2,756.0 C51.0,753.4 46.7,751.3 43.6,749.0 C40.5,746.7 38.0,744.4 36.5,742.0 C35.0,739.6 34.5,737.3 34.8,734.6 C35.1,731.9 36.5,728.6 38.2,725.9 C39.9,723.2 42.6,721.1 45.0,718.5 C47.4,715.9 50.6,714.6 52.8,710.4 C55.0,706.2 57.0,697.9 58.2,693.5 C59.4,689.1 58.9,687.0 60.0,684.0 C61.1,681.0 62.9,679.2 65.0,675.5 C67.1,671.8 69.5,666.0 72.5,661.7 C75.5,657.5 79.4,653.0 83.0,650.0 C86.6,647.0 92.1,647.0 94.0,644.0 C95.9,641.0 94.3,636.5 94.3,632.0 C94.3,627.5 93.5,622.3 94.0,617.0 C94.5,611.7 96.0,605.3 97.5,600.0 C99.0,594.7 101.0,589.0 103.0,585.4 C105.0,581.8 107.1,579.7 109.6,578.5 C112.1,577.3 115.4,577.5 118.1,578.0 C120.8,578.5 123.4,581.6 125.5,581.5 C127.6,581.4 128.7,578.4 130.8,577.5 C132.9,576.6 135.0,577.1 138.2,576.4 C141.4,575.7 146.5,574.2 149.8,573.3 C153.2,572.4 155.3,571.2 158.3,571.0 C161.3,570.8 165.3,572.0 167.8,571.8 C170.3,571.6 171.2,570.3 173.1,569.8 C175.0,569.3 178.2,569.6 179.5,569.0 C180.8,568.4 179.3,566.8 181.0,566.3 C182.7,565.8 186.8,566.9 189.9,565.8 C193.0,564.7 196.1,562.0 199.5,559.5 C202.9,557.0 207.3,554.4 210.1,551.0 C212.9,547.6 215.5,542.6 216.4,539.4 C217.3,536.2 216.6,534.3 215.3,532.0 C214.0,529.7 209.3,527.9 208.4,525.6 C207.5,523.3 210.2,520.7 210.0,518.2 C209.8,515.7 208.5,513.8 206.9,510.8 C205.3,507.8 201.7,504.1 200.5,500.2 C199.3,496.3 199.3,491.0 199.5,487.5 C199.7,484.0 200.2,481.2 201.6,479.0 C203.0,476.8 205.5,475.6 207.9,474.4 C210.3,473.2 213.7,473.0 216.0,471.6Z"/></clipPath>
<g clip-path="url(#tclip)">
<path d="M235,505 C260,480 310,490 330,540 C325,600 310,650 300,700 C270,710 250,690 245,650 C235,600 215,560 235,505Z" fill="#eecfe0" filter="url(#blur2)"/>
<path d="M40,720 C60,680 110,650 150,650 C185,660 180,700 160,712 C120,700 90,700 70,730 C60,760 90,770 40,760Z" fill="#efd3e3" filter="url(#blur2)"/>
<path d="M190,470 C212,458 245,452 262,460 C268,482 250,510 232,528 C218,540 198,535 190,515Z" fill="#f7eef3" filter="url(#blur3)"/>
</g>
<path d="M98.0,642.5 C96.2,640.5 95.4,636.2 94.8,632.0 C94.2,627.8 93.9,622.4 94.4,617.1 C94.9,611.8 96.5,605.5 98.0,600.2 C99.5,594.9 101.4,588.9 103.3,585.4 C105.2,581.9 107.1,580.1 109.6,579.0 C112.1,577.9 115.4,578.1 118.1,578.6 C120.8,579.1 123.6,580.5 125.5,582.2 C127.4,583.9 128.5,587.2 129.7,588.6 C130.9,590.0 131.8,591.1 132.9,590.7 C134.0,590.4 134.7,588.5 136.1,586.5 C137.5,584.5 139.1,581.1 141.4,579.0 C143.7,576.9 147.0,575.0 149.8,573.8 C152.6,572.6 155.8,571.4 158.3,571.6 C160.8,571.8 162.9,573.0 164.7,574.8 C166.5,576.6 167.3,580.2 168.9,582.2 C170.5,584.2 172.1,585.8 174.2,586.5 C176.3,587.2 178.6,587.0 181.6,586.5 C184.6,586.0 189.6,583.5 192.2,583.5 C194.8,583.5 196.4,585.1 197.3,586.5 C198.2,587.9 197.7,590.2 197.6,591.7 C197.5,593.2 196.2,594.3 196.5,595.3 C196.8,596.3 197.3,597.5 199.1,597.9 C200.8,598.3 204.9,597.0 207.0,597.9 C209.1,598.8 211.0,601.0 211.4,603.2 C211.8,605.4 211.2,608.9 209.7,611.1 C208.2,613.3 204.1,614.5 202.6,616.4 C201.1,618.3 200.8,620.8 200.9,622.6 C201.1,624.4 202.2,626.1 203.5,627.0 C204.8,627.9 207.3,628.3 208.8,627.9 C210.3,627.5 211.6,626.9 212.3,624.4 C213.0,621.9 212.5,616.3 213.2,612.9 C213.9,609.5 215.1,607.0 216.7,604.1 C218.3,601.2 220.7,597.9 222.9,595.3 C225.1,592.6 227.7,590.3 230.0,588.2 C232.3,586.1 235.1,583.9 237.0,582.9 C238.9,581.9 240.3,581.8 241.4,582.4 C242.5,583.0 243.2,584.2 243.6,586.5 C244.0,588.8 242.9,593.4 243.6,596.0 C244.3,598.6 246.1,600.1 247.6,602.3 C249.1,604.5 251.5,606.4 252.4,609.4 C253.3,612.4 253.3,616.8 253.1,620.0 C252.9,623.2 252.3,625.9 251.3,628.5 C250.3,631.1 248.4,633.4 247.2,635.5 C246.0,637.6 244.8,639.2 244.2,641.3 C243.5,643.4 242.8,646.0 243.3,648.1 C243.8,650.2 246.1,651.8 247.2,653.9 C248.2,656.0 249.6,658.6 249.6,660.5 C249.6,662.4 248.5,663.8 247.4,665.5 C246.3,667.2 244.9,668.7 243.2,670.6 C241.5,672.5 238.9,674.8 237.0,676.8 C235.1,678.8 233.5,680.7 231.8,682.9 C230.1,685.1 228.4,687.5 226.6,690.0 C224.8,692.5 222.7,695.2 220.9,697.9 C219.1,700.5 217.2,703.2 215.6,705.9 C214.0,708.5 212.8,711.3 211.2,713.8 C209.6,716.3 207.7,719.1 205.9,720.9 C204.1,722.7 203.2,723.9 200.6,724.8 C197.9,725.7 193.4,725.9 190.0,726.2 C186.6,726.6 184.2,726.0 180.4,726.9 C176.6,727.8 170.6,729.5 166.9,731.7 C163.2,734.0 161.0,737.6 158.1,740.4 C155.2,743.1 152.8,746.4 149.4,748.2 C146.0,750.0 140.7,750.2 137.8,751.1 C134.9,752.0 133.6,752.2 131.8,753.5 C130.0,754.8 129.1,757.6 127.0,758.9 C124.9,760.2 123.1,760.9 119.2,761.4 C115.3,761.9 108.9,761.9 103.7,761.8 C98.5,761.7 92.7,761.6 88.2,760.8 C83.7,760.0 79.5,758.7 76.6,756.9 C73.7,755.1 71.9,753.5 70.7,750.1 C69.5,746.7 69.2,741.0 69.2,736.6 C69.2,732.2 69.5,727.7 70.7,724.0 C71.9,720.3 74.0,717.3 76.6,714.2 C79.2,711.1 82.8,708.2 86.3,705.5 C89.8,702.8 93.7,699.8 97.9,697.8 C102.1,695.8 107.0,694.4 111.5,693.5 C116.0,692.6 121.8,692.3 125.1,692.3 C128.3,692.3 128.9,692.6 131.0,693.5 C133.1,694.4 135.7,695.5 137.8,697.8 C139.9,700.1 141.3,704.9 143.6,707.5 C145.8,710.1 148.4,712.2 151.3,713.3 C154.2,714.4 157.8,714.5 161.0,714.2 C164.2,713.9 167.9,712.8 170.7,711.3 C173.4,709.8 175.8,708.1 177.5,705.5 C179.2,702.9 179.6,699.7 180.8,695.8 C182.1,691.9 183.9,686.7 185.0,682.3 C186.1,677.9 187.0,673.3 187.1,669.6 C187.2,665.9 186.8,662.7 185.4,660.1 C184.0,657.5 180.8,656.1 178.7,653.8 C176.6,651.5 174.3,648.6 173.0,646.3 C171.7,644.0 171.5,642.0 170.6,640.0 C169.7,638.0 169.0,635.3 167.8,634.3 C166.6,633.3 165.4,633.2 163.6,634.1 C161.8,635.0 159.1,638.7 157.2,639.4 C155.3,640.1 153.8,639.4 152.0,638.3 C150.2,637.2 148.5,634.4 146.7,633.0 C144.9,631.6 142.8,629.8 141.4,629.8 C140.0,629.8 139.1,631.2 138.2,633.0 C137.3,634.8 137.3,638.5 136.1,640.4 C134.9,642.3 133.8,643.5 130.8,644.2 C127.8,644.9 122.3,644.7 118.1,644.7 C113.9,644.7 108.8,644.6 105.4,644.2 C102.1,643.8 99.8,644.5 98.0,642.5Z" fill="#f9f5f8"/>
<path d="M230.9,686.5 C232.6,683.9 235.7,681.5 237.9,679.4 C240.1,677.3 242.0,675.4 244.1,674.1 C246.2,672.8 248.2,671.8 250.3,671.5 C252.4,671.2 254.9,671.3 256.4,672.3 C257.9,673.3 258.7,674.6 259.1,677.6 C259.5,680.6 258.7,686.4 258.8,690.0 C258.9,693.6 258.8,697.4 259.8,699.5 C260.8,701.6 262.5,702.2 264.6,702.5 C266.7,702.8 270.3,701.0 272.4,701.1 C274.5,701.2 275.9,701.4 277.2,703.4 C278.5,705.4 279.8,709.9 280.1,713.1 C280.4,716.3 280.1,720.0 279.2,722.8 C278.3,725.6 276.5,727.3 274.7,729.9 C272.9,732.5 269.6,735.2 268.5,738.5 C267.4,741.8 268.1,745.3 268.0,749.6 C267.9,753.9 268.5,760.1 268.0,764.4 C267.5,768.7 267.2,772.5 264.8,775.6 C262.4,778.7 258.0,780.5 253.7,783.0 C249.4,785.5 243.4,788.1 238.9,790.4 C234.4,792.6 229.2,794.9 226.5,796.5 C223.8,798.1 224.7,798.8 222.8,800.2 C221.0,801.7 218.1,803.9 215.4,805.2 C212.7,806.5 209.5,808.1 206.8,808.1 C204.1,808.1 202.7,806.7 199.4,805.2 C196.1,803.7 190.9,801.1 187.0,799.0 C183.1,796.9 178.4,795.1 175.9,792.8 C173.4,790.5 174.5,788.1 172.2,785.4 C169.9,782.7 164.4,780.1 162.3,776.8 C160.2,773.5 159.6,769.2 159.4,765.7 C159.2,762.2 159.5,758.7 161.1,755.8 C162.7,752.9 166.1,750.1 168.8,748.2 C171.5,746.4 173.1,746.1 177.2,744.7 C181.3,743.3 189.2,741.3 193.5,740.0 C197.8,738.7 199.4,737.8 203.2,736.7 C207.0,735.6 212.2,734.5 216.5,733.2 C220.8,731.9 226.3,730.3 228.8,728.8 C231.3,727.3 231.1,726.0 231.4,724.4 C231.7,722.8 231.2,721.2 230.6,719.1 C229.9,717.0 228.1,714.6 227.5,712.0 C226.9,709.4 226.9,706.0 227.0,703.2 C227.1,700.4 227.2,698.1 227.9,695.3 C228.6,692.5 229.2,689.1 230.9,686.5Z" fill="#f9f5f8"/>
<path d="M239.7,472.6 C241.0,471.6 242.2,469.5 244.1,468.2 C246.0,466.9 249.2,466.0 251.1,464.7 C253.0,463.4 254.5,461.9 255.6,460.3 C256.7,458.7 257.7,456.5 257.8,455.0 C257.9,453.5 257.5,452.2 256.4,451.5 C255.3,450.8 253.4,450.8 251.1,450.9 C248.8,451.0 245.2,451.3 242.3,452.3 C239.4,453.3 236.3,455.2 233.5,456.8 C230.7,458.4 227.8,460.1 225.6,462.0 C223.4,463.9 221.0,466.4 220.3,468.2 C219.6,470.0 220.2,471.7 221.2,472.6 C222.2,473.5 224.9,473.8 226.5,473.5 C228.1,473.2 229.7,471.8 230.9,470.9 C232.1,470.0 232.8,468.5 233.5,468.2 C234.2,467.9 235.2,468.4 235.3,469.1 C235.5,469.8 234.2,471.7 234.4,472.6 C234.6,473.5 235.3,474.4 236.2,474.4 C237.1,474.4 238.4,473.6 239.7,472.6Z" fill="#f9f5f8"/>
<path d="M260.0,457.6 C261.2,456.7 267.8,457.4 270.6,456.8 C273.4,456.2 274.8,453.8 276.8,453.8 C278.9,453.8 280.4,455.1 282.9,456.8 C285.4,458.5 288.5,461.2 291.7,463.8 C294.9,466.4 299.1,469.7 302.3,472.6 C305.5,475.5 308.8,478.4 311.1,481.4 C313.5,484.3 315.1,487.2 316.4,490.3 C317.7,493.4 318.7,497.2 319.1,500.0 C319.6,502.8 319.6,505.2 319.1,507.0 C318.7,508.8 317.4,509.6 316.4,510.5 C315.4,511.4 314.6,512.3 312.9,512.7 C311.1,513.1 308.2,513.3 305.9,512.9 C303.5,512.5 300.9,511.6 298.8,510.5 C296.7,509.4 294.7,507.9 293.5,506.1 C292.3,504.4 291.7,502.1 291.7,500.0 C291.7,497.9 293.4,495.7 293.5,493.8 C293.6,491.9 293.5,490.0 292.6,488.5 C291.7,487.0 290.1,486.5 288.2,485.0 C286.3,483.5 283.2,481.8 281.2,479.7 C279.1,477.6 278.0,474.5 275.9,472.6 C273.8,470.7 270.9,470.0 268.8,468.2 C266.7,466.4 265.0,463.8 263.5,462.0 C262.0,460.2 258.8,458.5 260.0,457.6Z" fill="#f9f5f8"/>
<path d="M189.9,565.8 C192.4,564.8 196.1,562.0 199.5,559.5 C202.9,557.0 207.3,554.4 210.1,551.0 C212.9,547.6 215.5,542.6 216.4,539.4 C217.3,536.2 216.4,533.4 215.3,532.0 C214.2,530.6 211.8,530.2 210.1,530.9 C208.3,531.6 206.2,533.9 204.8,536.2 C203.4,538.5 202.8,542.8 201.6,544.7 C200.4,546.6 199.0,547.8 197.4,547.8 C195.8,547.8 193.9,546.8 192.1,544.7 C190.3,542.6 188.9,537.6 186.8,535.1 C184.7,532.6 182.1,530.5 179.4,529.8 C176.8,529.1 173.9,529.5 170.9,530.9 C167.9,532.3 164.4,536.0 161.4,538.3 C158.4,540.6 155.1,542.6 152.9,544.7 C150.7,546.8 148.7,549.1 148.3,551.0 C148.0,552.9 148.6,555.4 150.8,556.3 C153.0,557.2 157.9,556.8 161.4,556.3 C164.9,555.8 169.4,552.9 172.0,553.1 C174.6,553.3 175.8,555.8 177.2,557.4 C178.6,559.0 179.2,561.3 180.4,562.6 C181.7,563.9 183.1,564.9 184.7,565.4 C186.3,565.9 187.4,566.8 189.9,565.8Z" fill="#f9f5f8"/>
<path d="M167.5,592.7 C180,588 193,588 201.4,603.3 C203,612 199.3,622.3 190.8,630.8 C184,633 178.1,632.9 171.7,622.3 C169,612 170,600 167.5,592.7Z" fill="#f2e0ea" filter="url(#blur1)"/>
<path d="M205,632 C215,640 228,645 240,650 C244,662 236,676 222,690 C205,705 190,712 178,722 C185,705 200,690 212,672 C220,660 210,645 205,632Z" fill="#f4e5ee" filter="url(#blur1)"/>
<path d="M116.3,649.0 C117.3,648.1 120.0,647.8 122.3,647.8 C124.6,647.8 128.4,647.9 130.0,649.0 C131.6,650.1 131.1,652.7 132.0,654.2 C132.9,655.7 135.1,656.5 135.3,657.8 C135.5,659.0 134.8,660.4 133.2,661.7 C131.6,663.0 127.5,665.5 125.5,665.8 C123.5,666.1 122.5,665.1 121.3,663.7 C120.1,662.3 118.9,659.2 118.1,657.4 C117.3,655.6 116.6,654.5 116.3,653.1 C116.0,651.7 115.3,649.9 116.3,649.0Z" fill="#caa3ca"/>
<path d="M142.1,673.1 C142.7,670.8 144.2,667.2 146.3,664.7 C148.4,662.2 152.0,659.9 154.8,658.3 C157.6,656.7 161.0,655.5 163.3,655.1 C165.6,654.8 167.6,655.0 168.6,656.2 C169.6,657.4 170.1,660.0 169.6,662.5 C169.1,665.0 167.5,668.7 165.4,671.0 C163.3,673.3 159.7,675.0 156.9,676.3 C154.1,677.6 150.9,678.6 148.5,679.0 C146.1,679.4 143.6,679.4 142.5,678.4 C141.4,677.4 141.5,675.4 142.1,673.1Z" fill="#caa3ca"/>
<path d="M59.1,700.7 C59.0,699.6 58.5,697.9 59.5,696.8 C60.5,695.7 62.4,694.9 64.9,693.9 C67.4,692.9 71.8,691.5 74.6,691.0 C77.3,690.5 80.1,690.5 81.4,691.0 C82.7,691.5 83.2,692.8 82.4,693.9 C81.6,695.0 78.9,696.7 76.6,697.8 C74.3,698.9 71.1,699.7 68.8,700.7 C66.5,701.7 64.5,703.2 63.0,703.6 C61.5,704.0 60.8,703.7 60.1,703.2 C59.5,702.7 59.2,701.8 59.1,700.7Z" fill="#caa3ca"/>
<path d="M158.0,708.0 C157.4,706.9 156.9,704.2 157.4,702.8 C157.9,701.4 160.0,700.9 161.2,699.6 C162.3,698.4 162.9,696.5 164.3,695.3 C165.7,694.1 168.0,692.6 169.6,692.2 C171.2,691.9 173.3,692.3 173.9,693.2 C174.5,694.1 174.3,696.4 173.4,697.5 C172.5,698.6 170.1,698.4 168.6,699.6 C167.1,700.8 165.5,703.2 164.3,704.9 C163.1,706.5 162.2,709.0 161.2,709.5 C160.1,710.0 158.6,709.1 158.0,708.0Z" fill="#caa3ca"/>
<path d="M221.1,567.0 C221.3,566.0 221.7,564.4 222.9,563.5 C224.1,562.6 226.6,562.1 228.2,561.5 C229.8,560.9 231.0,559.8 232.6,559.6 C234.2,559.4 236.9,559.6 237.9,560.3 C238.9,561.0 239.1,562.8 238.4,563.8 C237.7,564.8 235.2,565.5 233.5,566.2 C231.8,566.9 229.7,567.2 228.2,567.9 C226.7,568.6 225.8,569.9 224.7,570.2 C223.6,570.5 222.3,570.2 221.7,569.7 C221.1,569.2 220.9,568.0 221.1,567.0Z" fill="#caa3ca"/>
<path d="M239.7,549.1 C239.7,547.5 239.9,543.4 240.7,541.3 C241.5,539.2 243.1,537.5 244.5,536.5 C245.9,535.5 248.0,535.2 249.4,535.5 C250.8,535.8 252.6,537.1 252.9,538.4 C253.2,539.7 252.4,542.0 251.3,543.3 C250.2,544.6 247.8,545.1 246.5,546.2 C245.2,547.3 244.5,549.4 243.6,550.1 C242.7,550.8 241.6,550.8 240.9,550.6 C240.2,550.4 239.7,550.7 239.7,549.1Z" fill="#caa3ca"/>
<path d="M297.9,549.1 C298.2,547.6 298.8,544.6 299.8,543.3 C300.8,541.9 302.4,541.0 303.7,541.0 C305.0,541.0 307.0,541.9 307.6,543.3 C308.2,544.6 308.1,547.3 307.6,549.1 C307.1,550.9 305.8,553.0 304.7,553.9 C303.6,554.8 301.9,554.8 300.8,554.5 C299.7,554.2 298.4,552.9 297.9,552.0 C297.4,551.1 297.6,550.6 297.9,549.1Z" fill="#caa3ca"/>
<path d="M265.9,586.0 C265.8,585.0 265.9,583.6 266.9,582.1 C267.9,580.6 270.1,578.8 271.7,577.2 C273.3,575.6 275.2,573.2 276.6,572.4 C278.0,571.6 279.3,571.6 280.0,572.2 C280.7,572.9 281.4,574.8 280.8,576.3 C280.2,577.8 278.1,579.5 276.6,581.1 C275.1,582.7 273.2,584.9 271.7,586.0 C270.2,587.1 268.8,587.9 267.8,587.9 C266.8,587.9 266.0,587.0 265.9,586.0Z" fill="#caa3ca"/>
<path d="M260.7,634.5 C260.5,633.3 260.0,630.8 260.7,629.7 C261.4,628.6 263.3,628.0 264.6,627.8 C265.9,627.6 267.4,627.9 268.5,628.7 C269.6,629.5 271.2,631.7 271.4,632.6 C271.6,633.5 270.3,633.8 269.5,634.0 C268.7,634.2 267.5,633.4 266.6,634.0 C265.7,634.6 265.0,637.0 264.2,637.5 C263.4,638.0 262.3,637.6 261.7,637.1 C261.1,636.6 260.9,635.7 260.7,634.5Z" fill="#caa3ca"/>
<path d="M263.6,687.9 C263.1,686.4 262.2,683.5 262.7,682.1 C263.2,680.7 264.8,679.9 266.6,679.7 C268.4,679.5 271.5,680.2 273.3,681.1 C275.1,682.0 276.7,683.5 277.2,685.0 C277.7,686.5 277.4,688.7 276.3,689.8 C275.2,690.9 272.2,691.5 270.4,691.8 C268.6,692.1 266.7,692.0 265.6,691.4 C264.5,690.8 264.1,689.4 263.6,687.9Z" fill="#caa3ca"/>
<path d="M98.0,642.5 C96.2,640.5 95.4,636.2 94.8,632.0 C94.2,627.8 93.9,622.4 94.4,617.1 C94.9,611.8 96.5,605.5 98.0,600.2 C99.5,594.9 101.4,588.9 103.3,585.4 C105.2,581.9 107.1,580.1 109.6,579.0 C112.1,577.9 115.4,578.1 118.1,578.6 C120.8,579.1 123.6,580.5 125.5,582.2 C127.4,583.9 128.5,587.2 129.7,588.6 C130.9,590.0 131.8,591.1 132.9,590.7 C134.0,590.4 134.7,588.5 136.1,586.5 C137.5,584.5 139.1,581.1 141.4,579.0 C143.7,576.9 147.0,575.0 149.8,573.8 C152.6,572.6 155.8,571.4 158.3,571.6 C160.8,571.8 162.9,573.0 164.7,574.8 C166.5,576.6 167.3,580.2 168.9,582.2 C170.5,584.2 172.1,585.8 174.2,586.5 C176.3,587.2 178.6,587.0 181.6,586.5 C184.6,586.0 189.6,583.5 192.2,583.5 C194.8,583.5 196.4,585.1 197.3,586.5 C198.2,587.9 197.7,590.2 197.6,591.7 C197.5,593.2 196.2,594.3 196.5,595.3 C196.8,596.3 197.3,597.5 199.1,597.9 C200.8,598.3 204.9,597.0 207.0,597.9 C209.1,598.8 211.0,601.0 211.4,603.2 C211.8,605.4 211.2,608.9 209.7,611.1 C208.2,613.3 204.1,614.5 202.6,616.4 C201.1,618.3 200.8,620.8 200.9,622.6 C201.1,624.4 202.2,626.1 203.5,627.0 C204.8,627.9 207.3,628.3 208.8,627.9 C210.3,627.5 211.6,626.9 212.3,624.4 C213.0,621.9 212.5,616.3 213.2,612.9 C213.9,609.5 215.1,607.0 216.7,604.1 C218.3,601.2 220.7,597.9 222.9,595.3 C225.1,592.6 227.7,590.3 230.0,588.2 C232.3,586.1 235.1,583.9 237.0,582.9 C238.9,581.9 240.3,581.8 241.4,582.4 C242.5,583.0 243.2,584.2 243.6,586.5 C244.0,588.8 242.9,593.4 243.6,596.0 C244.3,598.6 246.1,600.1 247.6,602.3 C249.1,604.5 251.5,606.4 252.4,609.4 C253.3,612.4 253.3,616.8 253.1,620.0 C252.9,623.2 252.3,625.9 251.3,628.5 C250.3,631.1 248.4,633.4 247.2,635.5 C246.0,637.6 244.8,639.2 244.2,641.3 C243.5,643.4 242.8,646.0 243.3,648.1 C243.8,650.2 246.1,651.8 247.2,653.9 C248.2,656.0 249.6,658.6 249.6,660.5 C249.6,662.4 248.5,663.8 247.4,665.5 C246.3,667.2 244.9,668.7 243.2,670.6 C241.5,672.5 238.9,674.8 237.0,676.8 C235.1,678.8 233.5,680.7 231.8,682.9 C230.1,685.1 228.4,687.5 226.6,690.0 C224.8,692.5 222.7,695.2 220.9,697.9 C219.1,700.5 217.2,703.2 215.6,705.9 C214.0,708.5 212.8,711.3 211.2,713.8 C209.6,716.3 207.7,719.1 205.9,720.9 C204.1,722.7 203.2,723.9 200.6,724.8 C197.9,725.7 193.4,725.9 190.0,726.2 C186.6,726.6 184.2,726.0 180.4,726.9 C176.6,727.8 170.6,729.5 166.9,731.7 C163.2,734.0 161.0,737.6 158.1,740.4 C155.2,743.1 152.8,746.4 149.4,748.2 C146.0,750.0 140.7,750.2 137.8,751.1 C134.9,752.0 133.6,752.2 131.8,753.5 C130.0,754.8 129.1,757.6 127.0,758.9 C124.9,760.2 123.1,760.9 119.2,761.4 C115.3,761.9 108.9,761.9 103.7,761.8 C98.5,761.7 92.7,761.6 88.2,760.8 C83.7,760.0 79.5,758.7 76.6,756.9 C73.7,755.1 71.9,753.5 70.7,750.1 C69.5,746.7 69.2,741.0 69.2,736.6 C69.2,732.2 69.5,727.7 70.7,724.0 C71.9,720.3 74.0,717.3 76.6,714.2 C79.2,711.1 82.8,708.2 86.3,705.5 C89.8,702.8 93.7,699.8 97.9,697.8 C102.1,695.8 107.0,694.4 111.5,693.5 C116.0,692.6 121.8,692.3 125.1,692.3 C128.3,692.3 128.9,692.6 131.0,693.5 C133.1,694.4 135.7,695.5 137.8,697.8 C139.9,700.1 141.3,704.9 143.6,707.5 C145.8,710.1 148.4,712.2 151.3,713.3 C154.2,714.4 157.8,714.5 161.0,714.2 C164.2,713.9 167.9,712.8 170.7,711.3 C173.4,709.8 175.8,708.1 177.5,705.5 C179.2,702.9 179.6,699.7 180.8,695.8 C182.1,691.9 183.9,686.7 185.0,682.3 C186.1,677.9 187.0,673.3 187.1,669.6 C187.2,665.9 186.8,662.7 185.4,660.1 C184.0,657.5 180.8,656.1 178.7,653.8 C176.6,651.5 174.3,648.6 173.0,646.3 C171.7,644.0 171.5,642.0 170.6,640.0 C169.7,638.0 169.0,635.3 167.8,634.3 C166.6,633.3 165.4,633.2 163.6,634.1 C161.8,635.0 159.1,638.7 157.2,639.4 C155.3,640.1 153.8,639.4 152.0,638.3 C150.2,637.2 148.5,634.4 146.7,633.0 C144.9,631.6 142.8,629.8 141.4,629.8 C140.0,629.8 139.1,631.2 138.2,633.0 C137.3,634.8 137.3,638.5 136.1,640.4 C134.9,642.3 133.8,643.5 130.8,644.2 C127.8,644.9 122.3,644.7 118.1,644.7 C113.9,644.7 108.8,644.6 105.4,644.2 C102.1,643.8 99.8,644.5 98.0,642.5Z" fill="none" stroke="#ec1c24" stroke-width="1.85"/>
<path d="M230.9,686.5 C232.6,683.9 235.7,681.5 237.9,679.4 C240.1,677.3 242.0,675.4 244.1,674.1 C246.2,672.8 248.2,671.8 250.3,671.5 C252.4,671.2 254.9,671.3 256.4,672.3 C257.9,673.3 258.7,674.6 259.1,677.6 C259.5,680.6 258.7,686.4 258.8,690.0 C258.9,693.6 258.8,697.4 259.8,699.5 C260.8,701.6 262.5,702.2 264.6,702.5 C266.7,702.8 270.3,701.0 272.4,701.1 C274.5,701.2 275.9,701.4 277.2,703.4 C278.5,705.4 279.8,709.9 280.1,713.1 C280.4,716.3 280.1,720.0 279.2,722.8 C278.3,725.6 276.5,727.3 274.7,729.9 C272.9,732.5 269.6,735.2 268.5,738.5 C267.4,741.8 268.1,745.3 268.0,749.6 C267.9,753.9 268.5,760.1 268.0,764.4 C267.5,768.7 267.2,772.5 264.8,775.6 C262.4,778.7 258.0,780.5 253.7,783.0 C249.4,785.5 243.4,788.1 238.9,790.4 C234.4,792.6 229.2,794.9 226.5,796.5 C223.8,798.1 224.7,798.8 222.8,800.2 C221.0,801.7 218.1,803.9 215.4,805.2 C212.7,806.5 209.5,808.1 206.8,808.1 C204.1,808.1 202.7,806.7 199.4,805.2 C196.1,803.7 190.9,801.1 187.0,799.0 C183.1,796.9 178.4,795.1 175.9,792.8 C173.4,790.5 174.5,788.1 172.2,785.4 C169.9,782.7 164.4,780.1 162.3,776.8 C160.2,773.5 159.6,769.2 159.4,765.7 C159.2,762.2 159.5,758.7 161.1,755.8 C162.7,752.9 166.1,750.1 168.8,748.2 C171.5,746.4 173.1,746.1 177.2,744.7 C181.3,743.3 189.2,741.3 193.5,740.0 C197.8,738.7 199.4,737.8 203.2,736.7 C207.0,735.6 212.2,734.5 216.5,733.2 C220.8,731.9 226.3,730.3 228.8,728.8 C231.3,727.3 231.1,726.0 231.4,724.4 C231.7,722.8 231.2,721.2 230.6,719.1 C229.9,717.0 228.1,714.6 227.5,712.0 C226.9,709.4 226.9,706.0 227.0,703.2 C227.1,700.4 227.2,698.1 227.9,695.3 C228.6,692.5 229.2,689.1 230.9,686.5Z" fill="none" stroke="#ec1c24" stroke-width="1.85"/>
<path d="M260.0,457.6 C261.2,456.7 267.8,457.4 270.6,456.8 C273.4,456.2 274.8,453.8 276.8,453.8 C278.9,453.8 280.4,455.1 282.9,456.8 C285.4,458.5 288.5,461.2 291.7,463.8 C294.9,466.4 299.1,469.7 302.3,472.6 C305.5,475.5 308.8,478.4 311.1,481.4 C313.5,484.3 315.1,487.2 316.4,490.3 C317.7,493.4 318.7,497.2 319.1,500.0 C319.6,502.8 319.6,505.2 319.1,507.0 C318.7,508.8 317.4,509.6 316.4,510.5 C315.4,511.4 314.6,512.3 312.9,512.7 C311.1,513.1 308.2,513.3 305.9,512.9 C303.5,512.5 300.9,511.6 298.8,510.5 C296.7,509.4 294.7,507.9 293.5,506.1 C292.3,504.4 291.7,502.1 291.7,500.0 C291.7,497.9 293.4,495.7 293.5,493.8 C293.6,491.9 293.5,490.0 292.6,488.5 C291.7,487.0 290.1,486.5 288.2,485.0 C286.3,483.5 283.2,481.8 281.2,479.7 C279.1,477.6 278.0,474.5 275.9,472.6 C273.8,470.7 270.9,470.0 268.8,468.2 C266.7,466.4 265.0,463.8 263.5,462.0 C262.0,460.2 258.8,458.5 260.0,457.6Z" fill="none" stroke="#ec1c24" stroke-width="1.85"/>
<path d="M189.9,565.8 C192.4,564.8 196.1,562.0 199.5,559.5 C202.9,557.0 207.3,554.4 210.1,551.0 C212.9,547.6 215.5,542.6 216.4,539.4 C217.3,536.2 216.4,533.4 215.3,532.0 C214.2,530.6 211.8,530.2 210.1,530.9 C208.3,531.6 206.2,533.9 204.8,536.2 C203.4,538.5 202.8,542.8 201.6,544.7 C200.4,546.6 199.0,547.8 197.4,547.8 C195.8,547.8 193.9,546.8 192.1,544.7 C190.3,542.6 188.9,537.6 186.8,535.1 C184.7,532.6 182.1,530.5 179.4,529.8 C176.8,529.1 173.9,529.5 170.9,530.9 C167.9,532.3 164.4,536.0 161.4,538.3 C158.4,540.6 155.1,542.6 152.9,544.7 C150.7,546.8 148.7,549.1 148.3,551.0 C148.0,552.9 148.6,555.4 150.8,556.3 C153.0,557.2 157.9,556.8 161.4,556.3 C164.9,555.8 169.4,552.9 172.0,553.1 C174.6,553.3 175.8,555.8 177.2,557.4 C178.6,559.0 179.2,561.3 180.4,562.6 C181.7,563.9 183.1,564.9 184.7,565.4 C186.3,565.9 187.4,566.8 189.9,565.8Z" fill="none" stroke="#ec1c24" stroke-width="1.85"/>
<path d="M239.7,472.6 C240.4,471.9 242.2,469.5 244.1,468.2 C246.0,466.9 249.2,466.0 251.1,464.7 C253.0,463.4 254.5,461.9 255.6,460.3 C256.7,458.7 257.7,456.5 257.8,455.0 C257.9,453.5 257.5,452.2 256.4,451.5 C255.3,450.8 253.4,450.8 251.1,450.9 C248.8,451.0 245.2,451.3 242.3,452.3 C239.4,453.3 236.3,455.2 233.5,456.8 C230.7,458.4 227.8,460.1 225.6,462.0 C223.4,463.9 221.0,466.4 220.3,468.2 C219.6,470.0 220.2,471.7 221.2,472.6 C222.2,473.5 224.9,473.8 226.5,473.5 C228.1,473.2 229.7,471.8 230.9,470.9 C232.1,470.0 232.8,468.5 233.5,468.2 C234.2,467.9 235.2,468.4 235.3,469.1 C235.5,469.8 234.2,471.7 234.4,472.6 C234.6,473.5 235.9,474.1 236.2,474.4" fill="none" stroke="#ec1c24" stroke-width="1.85"/>
<path d="M216.4,471.6 C215.0,472.1 210.4,473.2 207.9,474.4 C205.4,475.6 203.0,476.8 201.6,479.0 C200.2,481.2 199.7,484.0 199.5,487.5 C199.3,491.0 199.3,496.3 200.5,500.2 C201.7,504.1 205.3,507.8 206.9,510.8 C208.5,513.8 209.8,515.7 210.0,518.2 C210.2,520.7 208.7,524.4 208.4,525.6" fill="none" stroke="#22a84a" stroke-width="1.8"/>
<path d="M317.8,512.7 C318.3,513.8 320.0,517.4 320.8,519.4 C321.6,521.4 322.4,522.0 322.6,524.7 C322.8,527.4 322.7,530.8 322.1,535.5 C321.5,540.2 320.3,547.8 319.2,553.0 C318.1,558.2 317.0,562.1 315.4,566.6 C313.8,571.1 311.3,575.6 309.5,580.1 C307.7,584.6 306.3,589.5 304.7,593.7 C303.1,597.9 301.6,601.8 299.8,605.4 C298.0,609.0 295.6,611.9 294.0,615.1 C292.4,618.3 291.1,621.8 290.4,624.8 C289.7,627.8 289.9,629.9 289.6,633.0 C289.4,636.1 289.2,639.0 288.9,643.3 C288.6,647.6 288.5,653.6 287.9,658.8 C287.2,664.0 286.1,669.8 285.0,674.3 C283.9,678.8 282.4,682.1 281.1,686.0 C279.8,689.9 277.9,695.7 277.2,697.6" fill="none" stroke="#22a84a" stroke-width="1.8"/>
<path d="M167.7,572.2 C168.6,571.9 171.1,570.6 173.0,570.2 C174.9,569.8 178.1,570.3 179.4,569.8 C180.7,569.2 180.6,567.4 180.8,566.9" fill="none" stroke="#22a84a" stroke-width="1.8"/>
<path d="M127.6,582.2 C128.1,581.5 129.0,578.9 130.8,578.0 C132.6,577.1 137.0,577.1 138.2,576.9" fill="none" stroke="#22a84a" stroke-width="1.8"/>
<path d="M94.1,644.4 C92.3,645.4 87.0,647.2 83.5,650.1 C80.0,653.0 75.9,657.5 72.9,661.7 C69.9,665.9 67.6,671.8 65.5,675.5 C63.4,679.2 61.3,681.0 60.2,684.0 C59.1,687.0 59.0,691.9 58.7,693.5" fill="none" stroke="#22a84a" stroke-width="1.8"/>
<path d="M53.3,710.4 C52.0,711.9 47.9,716.5 45.5,719.1 C43.1,721.7 40.4,723.3 38.7,725.9 C37.0,728.5 35.7,732.0 35.4,734.6 C35.1,737.2 35.4,739.1 36.8,741.4 C38.2,743.7 40.5,745.9 43.6,748.2 C46.7,750.5 51.0,752.4 55.2,755.0 C59.4,757.6 64.3,761.0 68.8,763.7 C73.3,766.5 77.2,768.9 82.4,771.5 C87.6,774.1 94.3,777.3 99.8,779.2 C105.3,781.1 110.2,782.0 115.4,783.1 C120.6,784.2 125.1,785.6 130.9,786.0 C136.7,786.4 144.8,785.3 150.0,785.6 C155.2,785.9 158.2,786.2 162.3,787.9 C166.4,789.6 172.6,794.6 174.7,796.0" fill="none" stroke="#22a84a" stroke-width="1.8"/>
<path d="M116.3,649.0 C117.3,648.1 120.0,647.8 122.3,647.8 C124.6,647.8 128.4,647.9 130.0,649.0 C131.6,650.1 131.1,652.7 132.0,654.2 C132.9,655.7 135.1,656.5 135.3,657.8 C135.5,659.0 134.8,660.4 133.2,661.7 C131.6,663.0 127.5,665.5 125.5,665.8 C123.5,666.1 122.5,665.1 121.3,663.7 C120.1,662.3 118.9,659.2 118.1,657.4 C117.3,655.6 116.6,654.5 116.3,653.1 C116.0,651.7 115.3,649.9 116.3,649.0Z" fill="none" stroke="#1a6fc2" stroke-width="2.3"/>
<path d="M142.1,673.1 C142.7,670.8 144.2,667.2 146.3,664.7 C148.4,662.2 152.0,659.9 154.8,658.3 C157.6,656.7 161.0,655.5 163.3,655.1 C165.6,654.8 167.6,655.0 168.6,656.2 C169.6,657.4 170.1,660.0 169.6,662.5 C169.1,665.0 167.5,668.7 165.4,671.0 C163.3,673.3 159.7,675.0 156.9,676.3 C154.1,677.6 150.9,678.6 148.5,679.0 C146.1,679.4 143.6,679.4 142.5,678.4 C141.4,677.4 141.5,675.4 142.1,673.1Z" fill="none" stroke="#1a6fc2" stroke-width="2.3"/>
<path d="M59.1,700.7 C59.0,699.6 58.5,697.9 59.5,696.8 C60.5,695.7 62.4,694.9 64.9,693.9 C67.4,692.9 71.8,691.5 74.6,691.0 C77.3,690.5 80.1,690.5 81.4,691.0 C82.7,691.5 83.2,692.8 82.4,693.9 C81.6,695.0 78.9,696.7 76.6,697.8 C74.3,698.9 71.1,699.7 68.8,700.7 C66.5,701.7 64.5,703.2 63.0,703.6 C61.5,704.0 60.8,703.7 60.1,703.2 C59.5,702.7 59.2,701.8 59.1,700.7Z" fill="none" stroke="#1a6fc2" stroke-width="2.3"/>
<path d="M158.0,708.0 C157.4,706.9 156.9,704.2 157.4,702.8 C157.9,701.4 160.0,700.9 161.2,699.6 C162.3,698.4 162.9,696.5 164.3,695.3 C165.7,694.1 168.0,692.6 169.6,692.2 C171.2,691.9 173.3,692.3 173.9,693.2 C174.5,694.1 174.3,696.4 173.4,697.5 C172.5,698.6 170.1,698.4 168.6,699.6 C167.1,700.8 165.5,703.2 164.3,704.9 C163.1,706.5 162.2,709.0 161.2,709.5 C160.1,710.0 158.6,709.1 158.0,708.0Z" fill="none" stroke="#1a6fc2" stroke-width="2.3"/>
<path d="M221.1,567.0 C221.3,566.0 221.7,564.4 222.9,563.5 C224.1,562.6 226.6,562.1 228.2,561.5 C229.8,560.9 231.0,559.8 232.6,559.6 C234.2,559.4 236.9,559.6 237.9,560.3 C238.9,561.0 239.1,562.8 238.4,563.8 C237.7,564.8 235.2,565.5 233.5,566.2 C231.8,566.9 229.7,567.2 228.2,567.9 C226.7,568.6 225.8,569.9 224.7,570.2 C223.6,570.5 222.3,570.2 221.7,569.7 C221.1,569.2 220.9,568.0 221.1,567.0Z" fill="none" stroke="#1a6fc2" stroke-width="2.3"/>
<path d="M239.7,549.1 C239.7,547.5 239.9,543.4 240.7,541.3 C241.5,539.2 243.1,537.5 244.5,536.5 C245.9,535.5 248.0,535.2 249.4,535.5 C250.8,535.8 252.6,537.1 252.9,538.4 C253.2,539.7 252.4,542.0 251.3,543.3 C250.2,544.6 247.8,545.1 246.5,546.2 C245.2,547.3 244.5,549.4 243.6,550.1 C242.7,550.8 241.6,550.8 240.9,550.6 C240.2,550.4 239.7,550.7 239.7,549.1Z" fill="none" stroke="#1a6fc2" stroke-width="2.3"/>
<path d="M297.9,549.1 C298.2,547.6 298.8,544.6 299.8,543.3 C300.8,541.9 302.4,541.0 303.7,541.0 C305.0,541.0 307.0,541.9 307.6,543.3 C308.2,544.6 308.1,547.3 307.6,549.1 C307.1,550.9 305.8,553.0 304.7,553.9 C303.6,554.8 301.9,554.8 300.8,554.5 C299.7,554.2 298.4,552.9 297.9,552.0 C297.4,551.1 297.6,550.6 297.9,549.1Z" fill="none" stroke="#1a6fc2" stroke-width="2.3"/>
<path d="M265.9,586.0 C265.8,585.0 265.9,583.6 266.9,582.1 C267.9,580.6 270.1,578.8 271.7,577.2 C273.3,575.6 275.2,573.2 276.6,572.4 C278.0,571.6 279.3,571.6 280.0,572.2 C280.7,572.9 281.4,574.8 280.8,576.3 C280.2,577.8 278.1,579.5 276.6,581.1 C275.1,582.7 273.2,584.9 271.7,586.0 C270.2,587.1 268.8,587.9 267.8,587.9 C266.8,587.9 266.0,587.0 265.9,586.0Z" fill="none" stroke="#1a6fc2" stroke-width="2.3"/>
<path d="M260.7,634.5 C260.5,633.3 260.0,630.8 260.7,629.7 C261.4,628.6 263.3,628.0 264.6,627.8 C265.9,627.6 267.4,627.9 268.5,628.7 C269.6,629.5 271.2,631.7 271.4,632.6 C271.6,633.5 270.3,633.8 269.5,634.0 C268.7,634.2 267.5,633.4 266.6,634.0 C265.7,634.6 265.0,637.0 264.2,637.5 C263.4,638.0 262.3,637.6 261.7,637.1 C261.1,636.6 260.9,635.7 260.7,634.5Z" fill="none" stroke="#1a6fc2" stroke-width="2.3"/>
<path d="M263.6,687.9 C263.1,686.4 262.2,683.5 262.7,682.1 C263.2,680.7 264.8,679.9 266.6,679.7 C268.4,679.5 271.5,680.2 273.3,681.1 C275.1,682.0 276.7,683.5 277.2,685.0 C277.7,686.5 277.4,688.7 276.3,689.8 C275.2,690.9 272.2,691.5 270.4,691.8 C268.6,692.1 266.7,692.0 265.6,691.4 C264.5,690.8 264.1,689.4 263.6,687.9Z" fill="none" stroke="#1a6fc2" stroke-width="2.3"/>
<path d="M28,639 L31,638.2 L34.2,639.5 L33.6,642.6 L34.5,644.2 L31.4,644.8 L28.3,644.3 L28.8,641.8Z" fill="#5a2348"/>
<text x="125.3" y="491.7" font-size="15.8" fill="#22a84a">Stromal</text>
<line x1="182.5" y1="487.3" x2="195" y2="490.5" stroke="#22a84a" stroke-width="1.4"/>
<path d="M200,491.8 L193.5,487.2 L192.3,492.6Z" fill="#22a84a"/>
<text x="58.2" y="535.8" font-size="16" fill="#1a6fc2">Epithelial</text>
<line x1="127.5" y1="529.2" x2="233" y2="536" stroke="#1a6fc2" stroke-width="1.4"/>
<path d="M239,536.5 L232,533.2 L231.7,539.4Z" fill="#1a6fc2"/>
<text x="289.5" y="740.3" font-size="16" fill="#ec1c24">Adipose</text>
<line x1="287.5" y1="735.9" x2="260" y2="740" stroke="#ec1c24" stroke-width="1.4"/>
<path d="M254.5,740.7 L261.3,737 L262,743Z" fill="#ec1c24"/>
</svg></body></html>
